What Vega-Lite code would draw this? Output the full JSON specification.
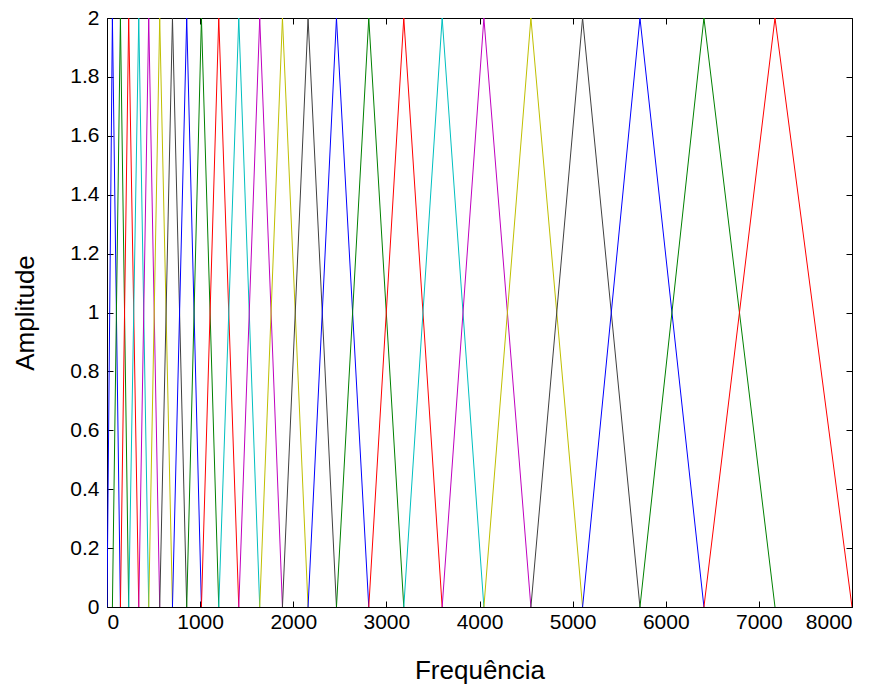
{
  "$schema": "https://vega.github.io/schema/vega-lite/v6.json",
  "width": 745,
  "height": 589,
  "autosize": {"type": "none"},
  "padding": {"left": 107, "top": 18, "right": 26, "bottom": 82},
  "background": "white",
  "config": {
    "view": {"stroke": "black", "strokeWidth": 1},
    "font": "Liberation Sans",
    "axis": {"grid": false, "domain": false, "tickColor": "black", "labelColor": "black", "titleColor": "black", "labelFontSize": 21, "titleFontSize": 26, "titleFontWeight": "normal", "labelFont": "Liberation Sans", "titleFont": "Liberation Sans"}
  },
  "data": {"values": [
    {"f":"f01","x":0,"y":0},{"f":"f01","x":58,"y":2},{"f":"f01","x":144,"y":0},
    {"f":"f02","x":58,"y":0},{"f":"f02","x":144,"y":2},{"f":"f02","x":233,"y":0},
    {"f":"f03","x":144,"y":0},{"f":"f03","x":233,"y":2},{"f":"f03","x":341,"y":0},
    {"f":"f04","x":233,"y":0},{"f":"f04","x":341,"y":2},{"f":"f04","x":448,"y":0},
    {"f":"f05","x":341,"y":0},{"f":"f05","x":448,"y":2},{"f":"f05","x":566,"y":0},
    {"f":"f06","x":448,"y":0},{"f":"f06","x":566,"y":2},{"f":"f06","x":703,"y":0},
    {"f":"f07","x":566,"y":0},{"f":"f07","x":703,"y":2},{"f":"f07","x":856,"y":0},
    {"f":"f08","x":703,"y":0},{"f":"f08","x":856,"y":2},{"f":"f08","x":1014,"y":0},
    {"f":"f09","x":856,"y":0},{"f":"f09","x":1014,"y":2},{"f":"f09","x":1200,"y":0},
    {"f":"f10","x":1014,"y":0},{"f":"f10","x":1200,"y":2},{"f":"f10","x":1415,"y":0},
    {"f":"f11","x":1200,"y":0},{"f":"f11","x":1415,"y":2},{"f":"f11","x":1640,"y":0},
    {"f":"f12","x":1415,"y":0},{"f":"f12","x":1640,"y":2},{"f":"f12","x":1884,"y":0},
    {"f":"f13","x":1640,"y":0},{"f":"f13","x":1884,"y":2},{"f":"f13","x":2159,"y":0},
    {"f":"f14","x":1884,"y":0},{"f":"f14","x":2159,"y":2},{"f":"f14","x":2464,"y":0},
    {"f":"f15","x":2159,"y":0},{"f":"f15","x":2464,"y":2},{"f":"f15","x":2811,"y":0},
    {"f":"f16","x":2464,"y":0},{"f":"f16","x":2811,"y":2},{"f":"f16","x":3187,"y":0},
    {"f":"f17","x":2811,"y":0},{"f":"f17","x":3187,"y":2},{"f":"f17","x":3599,"y":0},
    {"f":"f18","x":3187,"y":0},{"f":"f18","x":3599,"y":2},{"f":"f18","x":4047,"y":0},
    {"f":"f19","x":3599,"y":0},{"f":"f19","x":4047,"y":2},{"f":"f19","x":4552,"y":0},
    {"f":"f20","x":4047,"y":0},{"f":"f20","x":4552,"y":2},{"f":"f20","x":5107,"y":0},
    {"f":"f21","x":4552,"y":0},{"f":"f21","x":5107,"y":2},{"f":"f21","x":5723,"y":0},
    {"f":"f22","x":5107,"y":0},{"f":"f22","x":5723,"y":2},{"f":"f22","x":6410,"y":0},
    {"f":"f23","x":5723,"y":0},{"f":"f23","x":6410,"y":2},{"f":"f23","x":7173,"y":0},
    {"f":"f24","x":6410,"y":0},{"f":"f24","x":7173,"y":2},{"f":"f24","x":8000,"y":0}
  ]},
  "layer": [
    {
      "mark": {"type": "line", "strokeWidth": 1, "clip": true},
      "encoding": {
        "x": {"field": "x", "type": "quantitative", "scale": {"domain": [0, 8000], "nice": false},
              "axis": {"orient": "bottom", "title": "Frequência", "tickCount": 8, "format": "d", "tickSize": -6, "labelPadding": 10, "titlePadding": 25}},
        "y": {"field": "y", "type": "quantitative", "scale": {"domain": [0, 2], "nice": false},
              "axis": {"orient": "left", "title": "Amplitude", "tickCount": 10, "tickSize": -6, "labelPadding": 14, "titlePadding": 31, "labelExpr": "datum.value == 0 ? '0' : datum.value == 1 ? '1' : datum.value == 2 ? '2' : format(datum.value, '.1f')"}},
        "detail": {"field": "f"},
        "color": {"field": "f", "type": "nominal", "legend": null,
          "scale": {
            "domain": ["f01","f02","f03","f04","f05","f06","f07","f08","f09","f10","f11","f12","f13","f14","f15","f16","f17","f18","f19","f20","f21","f22","f23","f24"],
            "range": ["#0000ff","#008000","#ff0000","#00bfbf","#bf00bf","#bfbf00","#404040","#0000ff","#008000","#ff0000","#00bfbf","#bf00bf","#bfbf00","#404040","#0000ff","#008000","#ff0000","#00bfbf","#bf00bf","#bfbf00","#404040","#0000ff","#008000","#ff0000"]
          }}
      }
    },
    {
      "mark": {"type": "line", "opacity": 0},
      "encoding": {
        "x": {"field": "x", "type": "quantitative", "scale": {"domain": [0, 8000], "nice": false},
              "axis": {"orient": "top", "title": null, "labels": false, "tickCount": 8, "tickSize": -6}},
        "y": {"field": "y", "type": "quantitative", "scale": {"domain": [0, 2], "nice": false},
              "axis": {"orient": "right", "title": null, "labels": false, "tickCount": 10, "tickSize": -6}},
        "detail": {"field": "f"}
      }
    }
  ],
  "resolve": {"axis": {"x": "independent", "y": "independent"}}
}
